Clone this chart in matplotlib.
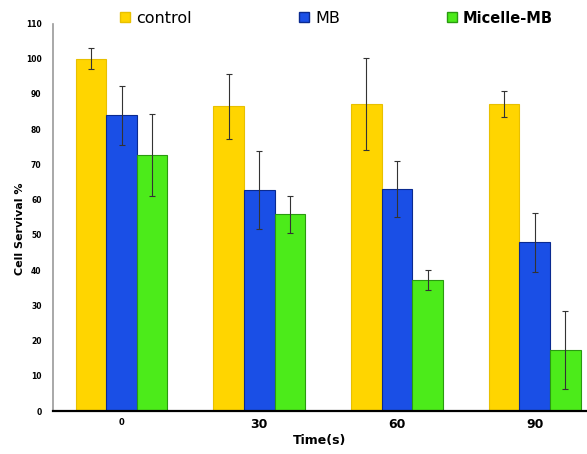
import matplotlib.pyplot as plt
import numpy as np
from matplotlib.lines import Line2D

# Datos
tiempos = ['0', '30', '60', '90']
grupos = ['control', 'MB', 'Micelle-MB']
control = [100.0, 86.5, 87.1, 87.1]
control_err = [3.0, 9.2, 13.0, 3.7]
mb = [83.9, 62.8, 63.1, 47.9]
mb_err = [8.4, 11.0, 8.0, 8.3]
micelle = [72.6, 55.8, 37.2, 17.3]
micelle_err = [11.7, 5.3, 2.8, 11.0]

colores = ['#FFD500', '#1A4FE6', '#4CEB1A']
bordes = ['#E8C000', '#0A2A90', '#2A9A10']

fig = plt.figure(figsize=(5.87, 4.54), dpi=100)
ax = fig.add_axes([0.0898, 0.0947, 0.9102, 0.8535])

x = np.arange(len(tiempos))
w = 0.222
series = [(control, control_err), (mb, mb_err), (micelle, micelle_err)]
for i, (vals, errs) in enumerate(series):
    ax.bar(x + (i - 1) * w, vals, w, color=colores[i], edgecolor=bordes[i], linewidth=0.8,
           yerr=errs, error_kw=dict(ecolor='#333333', elinewidth=0.8, capsize=2, capthick=0.8))

ax.set_xlim(-0.5, 3.38)
ax.set_ylim(0, 110)
ax.set_yticks(np.arange(0, 111, 10))
ax.set_xticks(x)
ax.set_xticklabels(tiempos, fontsize=9, fontweight='bold')
ax.get_xticklabels()[0].set_fontsize(6)
for t in ax.get_yticklabels():
    t.set_fontsize(5.5)
    t.set_fontweight('bold')
ax.tick_params(axis='y', length=0, pad=8)
ax.tick_params(axis='x', length=0, pad=5)

ax.spines['top'].set_visible(False)
ax.spines['right'].set_visible(False)
ax.spines['left'].set_color('#999999')
ax.spines['left'].set_linewidth(1.2)
ax.spines['bottom'].set_color('black')
ax.spines['bottom'].set_linewidth(1.6)

ax.set_ylabel('Cell Servival %', fontsize=8, fontweight='bold')
ax.yaxis.set_label_coords(-0.052, 0.47)
ax.set_xlabel('Time(s)', fontsize=9, fontweight='bold', labelpad=2)

handles = [Line2D([], [], marker='s', linestyle='none', markersize=7,
                  markerfacecolor=colores[i], markeredgecolor=bordes[i]) for i in range(3)]
leg = fig.legend(handles, grupos, loc='center left', bbox_to_anchor=(0.205, 0.96), ncol=3,
                 frameon=False, fontsize=11.5, handlelength=0.6, handletextpad=0.4,
                 columnspacing=6.7, borderpad=0, borderaxespad=0)
leg.get_texts()[2].set_fontweight('bold')
leg.get_texts()[2].set_fontsize(10.5)

fig.savefig('out.png', dpi=100)
